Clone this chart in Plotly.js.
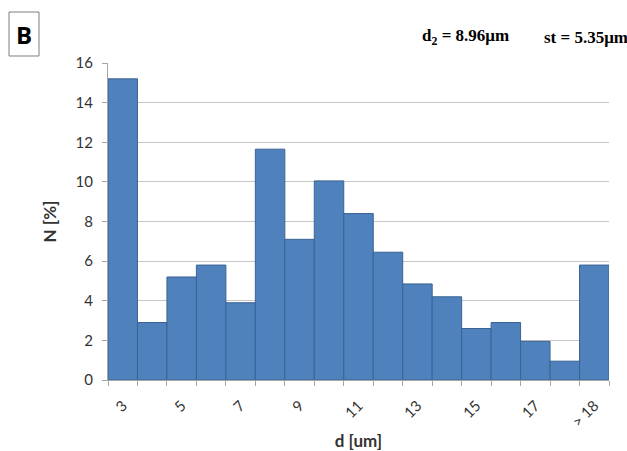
<!DOCTYPE html>
<html>
<head>
<meta charset="utf-8">
<script src="https://cdn.plot.ly/plotly-3.0.1.min.js"></script>
<style>html,body{margin:0;padding:0;background:#fff;}#chart{width:627px;height:451px;}</style>
</head>
<body>
<div id="chart"></div>
<script>
const diameters = [3, 4, 5, 6, 7, 8, 9, 10, 11, 12, 13, 14, 15, 16, 17, 18, 19];
const percentN = [15.2, 2.9, 5.2, 5.8, 3.9, 11.65, 7.1, 10.05, 8.4, 6.45, 4.85, 4.2, 2.6, 2.9, 1.95, 0.95, 5.8];
const tickValues = [3, 5, 7, 9, 11, 13, 15, 17, 19];
const tickLabels = ['3', '5', '7', '9', '11', '13', '15', '17', '> 18'];
const statD2 = 'd<sub>2</sub> = 8.96μm';
const statSt = 'st = 5.35μm';

const trace = {
  type: 'bar',
  x: diameters,
  y: percentN,
  width: 1,
  marker: {color: '#4F81BD', line: {color: '#3A6394', width: 1}},
  hoverinfo: 'x+y'
};

const serif = '"Liberation Serif", "Times New Roman", serif';

const layout = {
  width: 627, height: 451,
  margin: {l: 108, r: 18, t: 63, b: 71},
  paper_bgcolor: '#ffffff', plot_bgcolor: '#ffffff',
  showlegend: false,
  bargap: 0,
  font: {family: 'Lato, "Open Sans", sans-serif', color: '#333333', size: 15},
  xaxis: {
    range: [2.5, 19.5],
    tickmode: 'array', tickvals: tickValues, ticktext: tickLabels,
    tickangle: -45,
    ticks: '',
    ticklabelstandoff: 10,
    minor: {tick0: 2.5, dtick: 1, ticks: 'outside', ticklen: 5, tickcolor: '#A6A6A6', showgrid: false},
    showgrid: false, zeroline: false,
    showline: true, linecolor: '#A6A6A6', linewidth: 1,
    tickfont: {size: 15, color: '#333333'},
    title: {text: '<b>d [um]</b>', font: {size: 17, color: '#333333'}, standoff: 14},
    fixedrange: true
  },
  yaxis: {
    range: [0, 16], dtick: 2, tick0: 0,
    showgrid: true, gridcolor: '#C6C6C6', gridwidth: 1,
    zeroline: false,
    showline: true, linecolor: '#A6A6A6', linewidth: 1,
    ticks: 'outside', ticklen: 5, tickcolor: '#A6A6A6',
    ticklabelstandoff: 6,
    tickfont: {size: 15, color: '#333333'},
    title: {text: '<b>N [%]</b>', font: {size: 17, color: '#333333'}, standoff: 14},
    fixedrange: true
  },
  shapes: [
    {type: 'rect', xref: 'paper', yref: 'paper', xsizemode: 'pixel', ysizemode: 'pixel',
     xanchor: 0, yanchor: 1, x0: -99, x1: -69, y0: 7, y1: 51,
     line: {color: '#7F7F7F', width: 1}, fillcolor: 'rgba(0,0,0,0)'}
  ],
  annotations: [
    {xref: 'paper', yref: 'paper', x: 0, y: 1, xanchor: 'center', yanchor: 'middle',
     xshift: -84, yshift: 29, showarrow: false,
     text: '<b>B</b>', font: {family: '"Open Sans", Lato, sans-serif', size: 24, color: '#000000'}},
    {xref: 'paper', yref: 'paper', x: 0, y: 1, xanchor: 'left', yanchor: 'middle',
     xshift: 312, yshift: 26, showarrow: false,
     text: '<b>' + statD2 + '</b>', font: {family: serif, size: 17, color: '#000000'}},
    {xref: 'paper', yref: 'paper', x: 0, y: 1, xanchor: 'left', yanchor: 'middle',
     xshift: 434, yshift: 26, showarrow: false,
     text: '<b>' + statSt + '</b>', font: {family: serif, size: 17, color: '#000000'}}
  ]
};

Plotly.newPlot('chart', [trace], layout, {staticPlot: true, displayModeBar: false});
</script>
</body>
</html>
